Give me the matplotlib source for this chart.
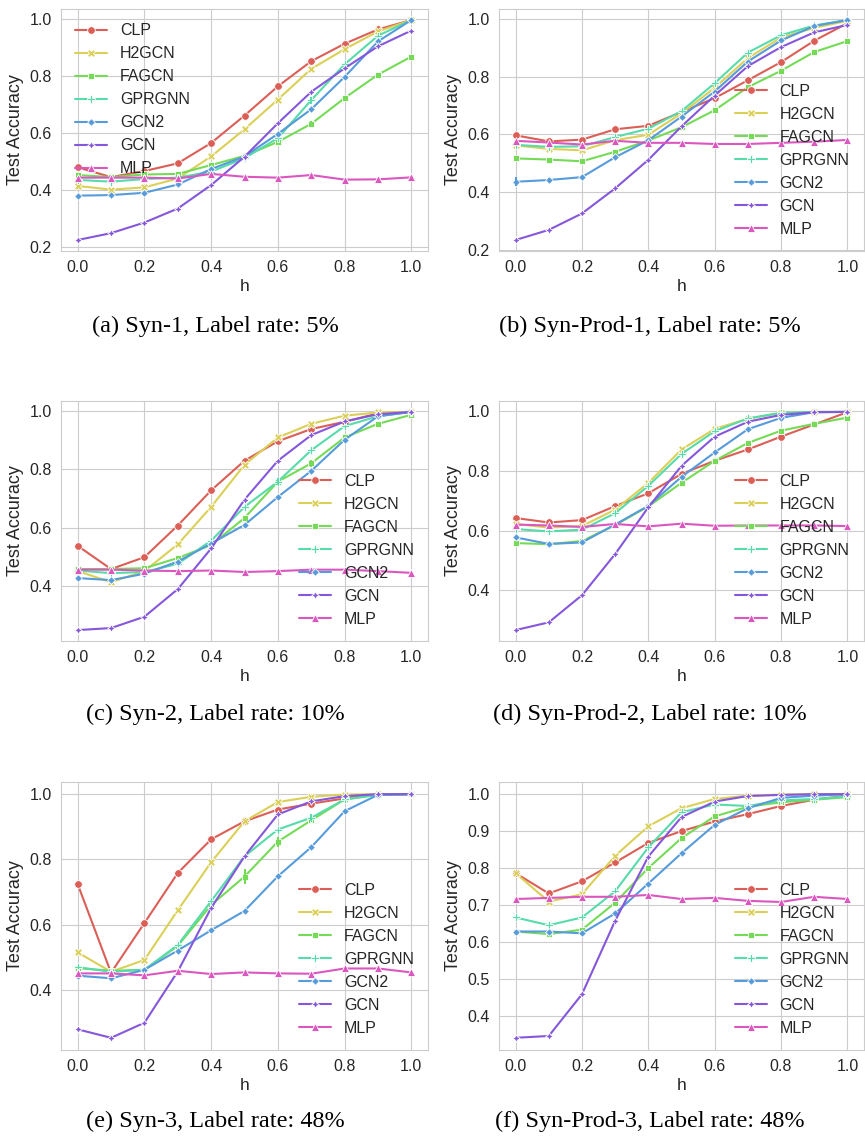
import matplotlib
matplotlib.use('Agg')
import matplotlib.pyplot as plt
import seaborn as sns

sns.set_style('whitegrid')
plt.rcParams['font.family'] = ['Liberation Sans', 'DejaVu Sans']

# x values (homophily h) and methods
h = [0.0, 0.1, 0.2, 0.3, 0.4, 0.5, 0.6, 0.7, 0.8, 0.9, 1.0]
methods = ['CLP', 'H2GCN', 'FAGCN', 'GPRGNN', 'GCN2', 'GCN', 'MLP']

# (a) Syn-1
syn1 = {
    'CLP':    [0.480, 0.446, 0.467, 0.494, 0.565, 0.661, 0.763, 0.851, 0.912, 0.962, 0.995],
    'H2GCN':  [0.415, 0.402, 0.410, 0.441, 0.518, 0.613, 0.717, 0.824, 0.893, 0.955, 0.995],
    'FAGCN':  [0.453, 0.446, 0.455, 0.457, 0.488, 0.520, 0.569, 0.632, 0.722, 0.804, 0.867],
    'GPRGNN': [0.436, 0.430, 0.439, 0.444, 0.465, 0.512, 0.582, 0.715, 0.840, 0.940, 0.995],
    'GCN2':   [0.381, 0.383, 0.391, 0.420, 0.474, 0.518, 0.597, 0.683, 0.796, 0.920, 0.995],
    'GCN':    [0.226, 0.250, 0.287, 0.336, 0.418, 0.517, 0.634, 0.744, 0.826, 0.903, 0.958],
    'MLP':    [0.444, 0.444, 0.444, 0.441, 0.457, 0.447, 0.444, 0.453, 0.437, 0.438, 0.445],
}
# (b) Syn-Prod-1
synprod1 = {
    'CLP':    [0.596, 0.575, 0.581, 0.617, 0.629, 0.677, 0.725, 0.787, 0.850, 0.924, 0.985],
    'H2GCN':  [0.561, 0.549, 0.544, 0.579, 0.598, 0.672, 0.761, 0.864, 0.935, 0.969, 0.993],
    'FAGCN':  [0.516, 0.512, 0.506, 0.539, 0.578, 0.624, 0.683, 0.763, 0.820, 0.885, 0.923],
    'GPRGNN': [0.563, 0.556, 0.558, 0.590, 0.619, 0.680, 0.777, 0.883, 0.943, 0.977, 0.996],
    'GCN2':   [0.435, 0.441, 0.451, 0.520, 0.579, 0.661, 0.748, 0.852, 0.925, 0.975, 0.996],
    'GCN':    [0.233, 0.268, 0.325, 0.412, 0.511, 0.627, 0.734, 0.836, 0.902, 0.953, 0.979],
    'MLP':    [0.577, 0.571, 0.564, 0.577, 0.570, 0.570, 0.566, 0.566, 0.570, 0.574, 0.580],
}
# (c) Syn-2
syn2 = {
    'CLP':    [0.537, 0.457, 0.498, 0.607, 0.728, 0.830, 0.897, 0.939, 0.964, 0.993, 0.998],
    'H2GCN':  [0.450, 0.412, 0.450, 0.542, 0.671, 0.816, 0.910, 0.957, 0.985, 0.996, 0.998],
    'FAGCN':  [0.457, 0.457, 0.460, 0.495, 0.540, 0.633, 0.758, 0.821, 0.910, 0.957, 0.988],
    'GPRGNN': [0.452, 0.443, 0.447, 0.475, 0.555, 0.671, 0.758, 0.866, 0.949, 0.983, 0.998],
    'GCN2':   [0.426, 0.419, 0.441, 0.483, 0.545, 0.609, 0.705, 0.795, 0.902, 0.983, 0.998],
    'GCN':    [0.247, 0.254, 0.293, 0.388, 0.528, 0.696, 0.830, 0.918, 0.965, 0.990, 0.998],
    'MLP':    [0.455, 0.455, 0.452, 0.450, 0.452, 0.447, 0.450, 0.455, 0.455, 0.450, 0.444],
}
# (d) Syn-Prod-2
synprod2 = {
    'CLP':    [0.642, 0.627, 0.635, 0.682, 0.725, 0.790, 0.834, 0.872, 0.915, 0.956, 0.997],
    'H2GCN':  [0.622, 0.610, 0.615, 0.670, 0.760, 0.872, 0.941, 0.975, 0.995, 0.998, 0.998],
    'FAGCN':  [0.558, 0.554, 0.565, 0.618, 0.681, 0.760, 0.834, 0.894, 0.935, 0.958, 0.979],
    'GPRGNN': [0.605, 0.597, 0.603, 0.658, 0.750, 0.857, 0.933, 0.976, 0.995, 0.998, 0.998],
    'GCN2':   [0.577, 0.555, 0.560, 0.620, 0.683, 0.780, 0.862, 0.940, 0.978, 0.997, 0.998],
    'GCN':    [0.266, 0.292, 0.383, 0.521, 0.678, 0.817, 0.915, 0.965, 0.988, 0.997, 0.998],
    'MLP':    [0.620, 0.617, 0.612, 0.622, 0.614, 0.623, 0.616, 0.617, 0.617, 0.617, 0.615],
}
# (e) Syn-3
syn3 = {
    'CLP':    [0.724, 0.453, 0.605, 0.758, 0.861, 0.916, 0.952, 0.970, 0.986, 0.998, 0.999],
    'H2GCN':  [0.515, 0.456, 0.492, 0.644, 0.791, 0.916, 0.975, 0.991, 0.998, 0.999, 0.999],
    'FAGCN':  [0.467, 0.459, 0.462, 0.535, 0.660, 0.747, 0.854, 0.919, 0.983, 0.997, 0.999],
    'GPRGNN': [0.470, 0.456, 0.462, 0.538, 0.672, 0.809, 0.891, 0.927, 0.983, 0.997, 0.999],
    'GCN2':   [0.444, 0.436, 0.462, 0.521, 0.583, 0.642, 0.748, 0.837, 0.947, 0.997, 0.999],
    'GCN':    [0.280, 0.254, 0.300, 0.457, 0.651, 0.809, 0.937, 0.977, 0.993, 0.999, 0.999],
    'MLP':    [0.451, 0.451, 0.445, 0.459, 0.449, 0.454, 0.451, 0.450, 0.466, 0.466, 0.454],
}
# (f) Syn-Prod-3
synprod3 = {
    'CLP':    [0.786, 0.731, 0.764, 0.815, 0.868, 0.900, 0.926, 0.946, 0.968, 0.985, 0.996],
    'H2GCN':  [0.786, 0.709, 0.729, 0.833, 0.913, 0.962, 0.987, 0.996, 0.999, 1.000, 1.000],
    'FAGCN':  [0.628, 0.621, 0.633, 0.706, 0.800, 0.881, 0.940, 0.966, 0.978, 0.985, 0.992],
    'GPRGNN': [0.666, 0.645, 0.666, 0.737, 0.856, 0.951, 0.972, 0.968, 0.983, 0.987, 0.994],
    'GCN2':   [0.628, 0.628, 0.623, 0.677, 0.758, 0.840, 0.917, 0.962, 0.990, 0.996, 1.000],
    'GCN':    [0.340, 0.345, 0.458, 0.657, 0.831, 0.938, 0.980, 0.995, 0.998, 1.000, 1.000],
    'MLP':    [0.716, 0.719, 0.722, 0.722, 0.727, 0.716, 0.719, 0.711, 0.708, 0.722, 0.716],
}

# the few visible error bars: (method, h index, half-width) per panel
errs = [
    [('FAGCN', 7, 0.010), ('GPRGNN', 7, 0.012)],
    [('GCN2', 0, 0.016), ('GCN2', 1, 0.008)],
    [('FAGCN', 7, 0.012), ('GPRGNN', 6, 0.012)],
    [],
    [('FAGCN', 5, 0.022), ('FAGCN', 6, 0.015), ('GPRGNN', 7, 0.010)],
    [],
]

panels = [syn1, synprod1, syn2, synprod2, syn3, synprod3]
captions = ['(a) Syn-1, Label rate: 5%', '(b) Syn-Prod-1, Label rate: 5%',
            '(c) Syn-2, Label rate: 10%', '(d) Syn-Prod-2, Label rate: 10%',
            '(e) Syn-3, Label rate: 48%', '(f) Syn-Prod-3, Label rate: 48%']

colors = sns.color_palette('hls', len(methods))
markers = ['o', 'X', (4, 0, 45), 'P', (4, 0, 0), (4, 1, 0), '^']

W, H = 865, 1142
fig = plt.figure(figsize=(W / 100, H / 100), dpi=100)

# pixel layout: (top, bottom, caption y) per row, (left, right, caption x) per column
rows = [(9, 251, 326), (401, 641, 714), (782, 1050, 1121)]
cols = [(61, 428, 215), (499, 864, 650)]

for i, data in enumerate(panels):
    top, bot, capy = rows[i // 2]
    left, right, capx = cols[i % 2]
    ax = fig.add_axes([left / W, 1 - bot / H, (right - left) / W, (bot - top) / H])
    for m, c, mk in zip(methods, colors, markers):
        ax.plot(h, data[m], color=c, marker=mk, lw=1.5, ms=5.5,
                mec='white', mew=0.6, label=m)
    for m, j, e in errs[i]:
        c = colors[methods.index(m)]
        ax.errorbar(h[j], data[m][j], yerr=e, fmt='none', ecolor=c, elinewidth=1.5)
    ax.set_xlabel('h', fontsize=12.5, color='#262626', labelpad=3)
    ax.set_ylabel('Test Accuracy', fontsize=13, color='#262626')
    ax.tick_params(labelsize=11.5, colors='#262626', pad=3)
    loc = 'upper left' if i == 0 else 'lower right'
    ax.legend(loc=loc, frameon=False, fontsize=11.5)
    fig.text(capx / W, 1 - capy / H, captions[i], ha='center', va='center',
             fontsize=17.5, family='Liberation Serif', color='black')

fig.savefig('out.png', dpi=100)
